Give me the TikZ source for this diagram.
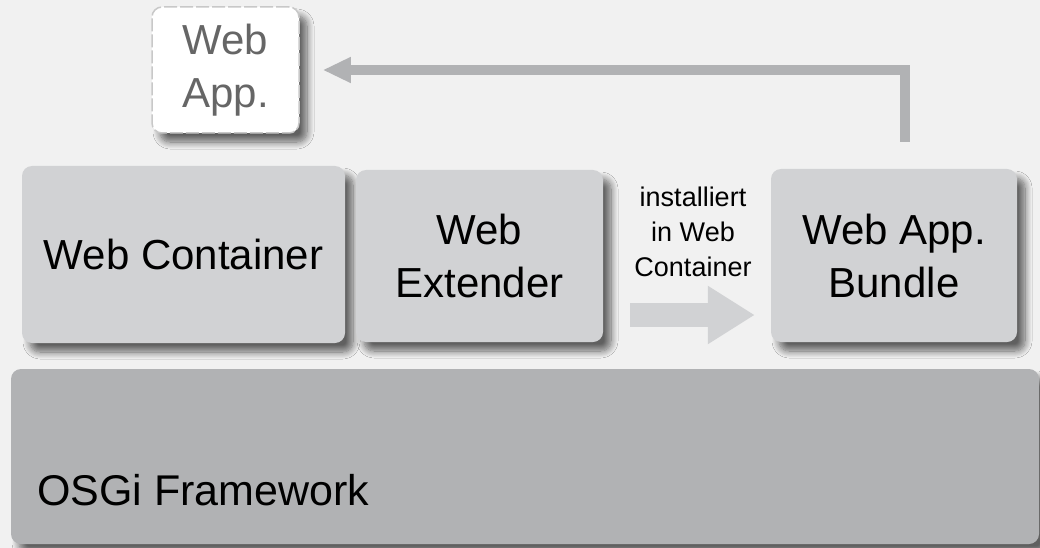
\documentclass[tikz,border=0pt]{standalone}
\usepackage{fontspec}
\setmainfont{Liberation Sans}
\usetikzlibrary{arrows.meta,shadows.blur}

\definecolor{bggray}{HTML}{F1F1F1}
\definecolor{boxgray}{HTML}{D1D2D4}
\definecolor{osgigray}{HTML}{B1B2B4}
\definecolor{dashgray}{HTML}{C8C8C8}
\definecolor{textgray}{HTML}{666666}

\begin{document}
\begin{tikzpicture}[x=1pt,y=-1pt,
  box/.style={rounded corners=10pt, fill=boxgray, inner sep=0pt, align=center,
    font=\fontsize{42}{53}\selectfont,
    blur shadow={shadow xshift=8pt, shadow yshift=-9pt, shadow blur radius=7pt,
      shadow blur steps=12, shadow opacity=60}},
  returnline/.style={draw=osgigray, line width=10pt, -{Triangle[length=28pt,width=24pt]}},
  blockline/.style={draw=boxgray, line width=24pt, -{Triangle[length=47pt,width=55pt]}}]

\fill[bggray] (0,0) rectangle (1040,548);
\useasboundingbox (0,0) rectangle (1040,548);

% OSGi layer
\node[box, fill=osgigray, minimum width=1028pt, minimum height=175pt] (osgi) at (525,456.5) {};
\node[anchor=base west, inner sep=0pt, font=\fontsize{43}{53}\selectfont] (osgilabel) at (37,505) {OSGi Framework};

% bundles
\node[box, minimum width=323pt, minimum height=177pt] (container) at (183.5,254.5) {Web Container};
\node[box, minimum width=247pt, minimum height=172pt] (extender) at (479.5,256) {Web\\Extender};
\node[box, minimum width=246pt, minimum height=173pt] (bundle) at (894,255.5) {Web App.\\Bundle};

% installed web app
\node[box, fill=white, draw=dashgray, line width=1.5pt, dash pattern=on 13pt off 3pt,
  text=textgray, minimum width=147pt, minimum height=126pt] (webapp) at (225.5,70) {Web\\App.};

\node[align=center, inner sep=0pt, font=\fontsize{27}{35}\selectfont] (install) at (693,232) {installiert\\in Web\\Container};

\coordinate (inststart) at (630,315);
\draw[blockline] (inststart) -- ([xshift=-16pt]bundle.west |- inststart);

\coordinate (ret) at (905,142);
\draw[returnline] (ret) |- ([xshift=23pt]webapp.east);

\end{tikzpicture}
\end{document}
